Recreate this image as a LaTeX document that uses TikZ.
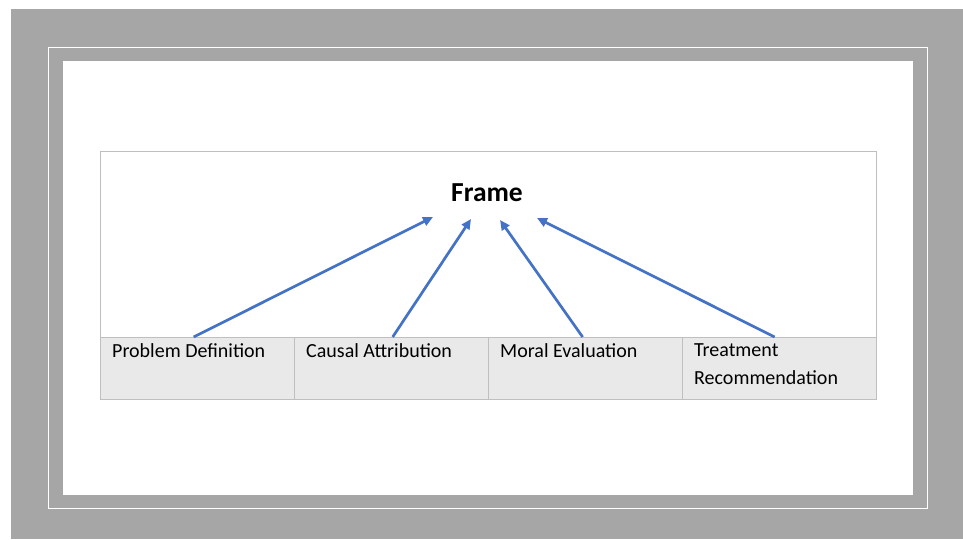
\documentclass[tikz,border=0pt]{standalone}
\usepackage{fontspec}
\setmainfont{Carlito}
\usetikzlibrary{arrows.meta}
\definecolor{matgray}{HTML}{A6A6A6}
\definecolor{cellgray}{HTML}{E9E9E9}
\definecolor{rulegray}{HTML}{BFBFBF}
\definecolor{arrowblue}{HTML}{4472C4}
\newcommand{\cellFont}[0]{\fontsize{20}{28}\selectfont}

\begin{document}
\begin{tikzpicture}[x=1pt, y=-1pt]
  \tikzset{cell/.style={draw=rulegray, fill=cellgray, line width=1.3pt, minimum width=194pt, minimum height=62pt, anchor=north west, inner sep=0pt},
    celltext/.style={anchor=north west, align=left, inner sep=0pt, font=\cellFont},
    pointer/.style={draw=arrowblue, line width=2.7pt, -{Triangle[length=10pt,width=9pt]}}}
  \useasboundingbox (0,0) rectangle (963,539);
  \fill[white] (0,0) rectangle (963,539);
  \fill[matgray] (11,9) rectangle (963,539);
  \draw[white, line width=1pt] (48,47) rectangle (927,508);
  \fill[white] (63,61) rectangle (913,495);
  % outer box and title
  \node[draw=rulegray, line width=1.3pt, minimum width=776pt, minimum height=186pt, anchor=north west, inner sep=0pt] (box) at (100,151) {};
  \node[font=\bfseries\fontsize{27.5}{30}\selectfont] (frame) at (487,193) {Frame};
  % bottom row
  \node[cell] (problem) at (100,337) {};
  \node[cell] (causal) at (294,337) {};
  \node[cell] (moral) at (488,337) {};
  \node[cell] (treatment) at (682,337) {};
  \node[celltext] (problemtext) at ([xshift=12pt,yshift=-6.5pt]problem.north west) {Problem Definition};
  \node[celltext] (causaltext) at ([xshift=12pt,yshift=-6.5pt]causal.north west) {Causal Attribution};
  \node[celltext] (moraltext) at ([xshift=12pt,yshift=-6.5pt]moral.north west) {Moral Evaluation};
  \node[celltext] (treatmenttext) at ([xshift=12pt,yshift=-6.5pt]treatment.north west) {Treatment\\Recommendation};
  % arrow ends below the title
  \coordinate (tipA) at (433,217);
  \coordinate (tipB) at (471,219);
  \coordinate (tipC) at (500,220);
  \coordinate (tipD) at (537,218);
  \draw[pointer] ([xshift=-4pt]problem.north) -- (tipA);
  \draw[pointer] ([xshift=1pt]causal.north) -- (tipB);
  \draw[pointer] ([xshift=-3pt]moral.north) -- (tipC);
  \draw[pointer] ([xshift=-5pt]treatment.north) -- (tipD);
\end{tikzpicture}
\end{document}
